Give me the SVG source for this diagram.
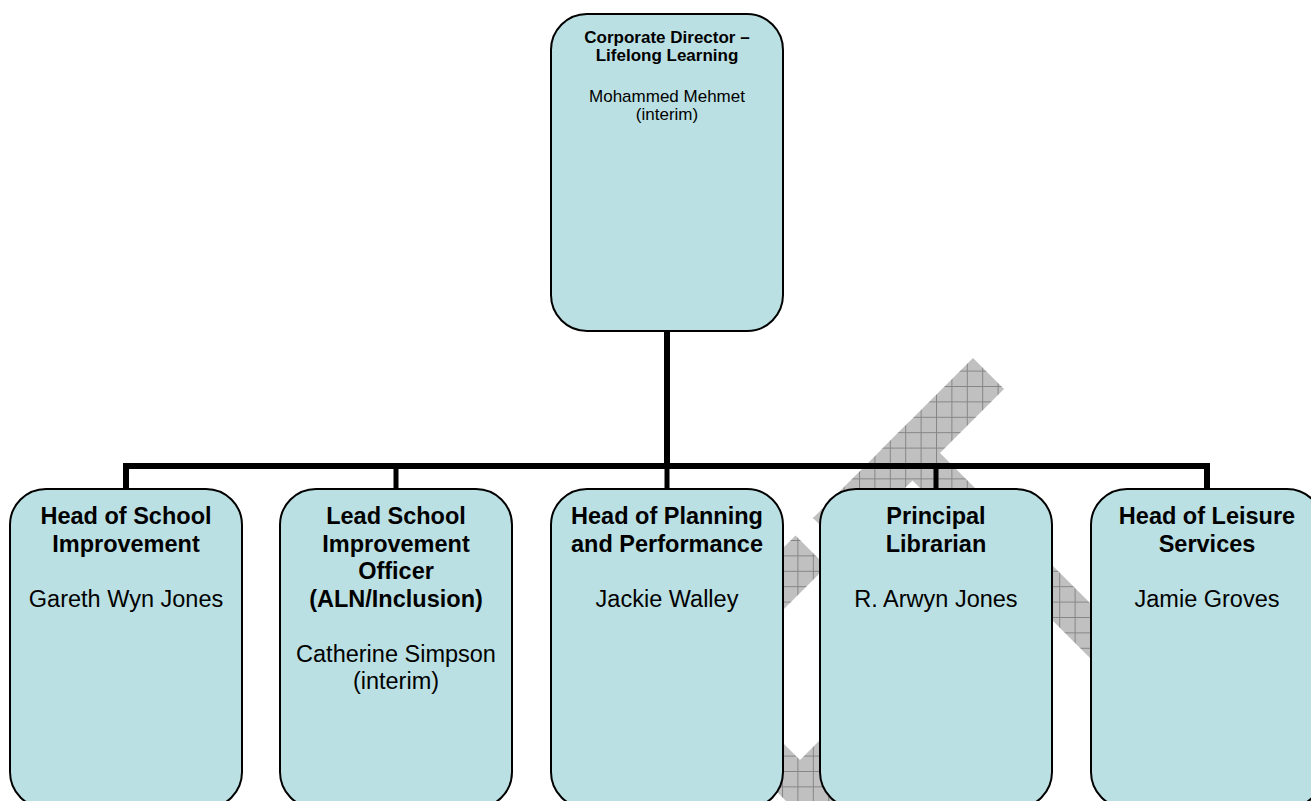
<svg xmlns="http://www.w3.org/2000/svg" width="1311" height="801" viewBox="0 0 1311 801">
<style>
.box{fill:#BBE0E3;stroke:#000;stroke-width:2}
.t{font-family:"Liberation Sans",Arial,sans-serif;font-size:23.5px;text-anchor:middle;fill:#000}
.b{font-weight:bold}
.s{font-family:"Liberation Sans",Arial,sans-serif;font-size:17px;text-anchor:middle;fill:#000}
.conn{fill:none;stroke:#000;stroke-width:6;stroke-linejoin:miter}
.stub{fill:none;stroke:#000;stroke-width:5}
.hatch{fill:url(#grid)}
</style>
<defs>
<pattern id="grid" patternUnits="userSpaceOnUse" x="936" y="386" width="15.4" height="15.4">
<rect width="15.4" height="15.4" fill="#C0C0C0"/>
<path d="M0.5,0 V15.4 M0,0.5 H15.4" stroke="#858585" stroke-width="1" fill="none"/>
</pattern>
</defs>
<g id="watermark">
<polygon class="hatch" points="973,358 1004,389 844,549 813,518"/>
<polygon class="hatch" points="909,422 881.5,449.5 1166,734 1193.5,706.5"/>
<polygon class="hatch" points="795.5,535.5 826.5,566.5 726.5,666.5 695.5,635.5"/>
<polygon class="hatch" points="740,700 800,760 860,700 900,740 900,830 815,830 740,755"/>
</g>
<g id="connectors">
<line class="conn" x1="667" y1="331" x2="667" y2="466"/>
<path class="conn" d="M126,489 V466 H1207 V489"/>
<line class="stub" x1="396" y1="466" x2="396" y2="489"/>
<line class="stub" x1="667" y1="466" x2="667" y2="489"/>
<line class="stub" x1="936" y1="466" x2="936" y2="489"/>
</g>
<g id="corporate-director">
<rect class="box" x="551" y="14" width="232" height="317" rx="36" ry="36"/>
<text class="s b" x="667" y="43">Corporate Director –</text>
<text class="s b" x="667" y="61">Lifelong Learning</text>
<text class="s" x="667" y="102">Mohammed Mehmet</text>
<text class="s" x="667" y="120">(interim)</text>
</g>
<g id="head-school-improvement">
<rect class="box" x="10" y="489" width="232" height="319" rx="36" ry="36"/>
<text class="t b" x="126" y="524">Head of School</text>
<text class="t b" x="126" y="552">Improvement</text>
<text class="t" x="126" y="607">Gareth Wyn Jones</text>
</g>
<g id="lead-school-improvement">
<rect class="box" x="280" y="489" width="232" height="319" rx="36" ry="36"/>
<text class="t b" x="396" y="524">Lead School</text>
<text class="t b" x="396" y="552">Improvement</text>
<text class="t b" x="396" y="579">Officer</text>
<text class="t b" x="396" y="607">(ALN/Inclusion)</text>
<text class="t" x="396" y="662">Catherine Simpson</text>
<text class="t" x="396" y="689">(interim)</text>
</g>
<g id="head-planning-performance">
<rect class="box" x="551" y="489" width="232" height="319" rx="36" ry="36"/>
<text class="t b" x="667" y="524">Head of Planning</text>
<text class="t b" x="667" y="552">and Performance</text>
<text class="t" x="667" y="607">Jackie Walley</text>
</g>
<g id="principal-librarian">
<rect class="box" x="820" y="489" width="232" height="319" rx="36" ry="36"/>
<text class="t b" x="936" y="524">Principal</text>
<text class="t b" x="936" y="552">Librarian</text>
<text class="t" x="936" y="607">R. Arwyn Jones</text>
</g>
<g id="head-leisure-services">
<rect class="box" x="1091" y="489" width="232" height="319" rx="36" ry="36"/>
<text class="t b" x="1207" y="524">Head of Leisure</text>
<text class="t b" x="1207" y="552">Services</text>
<text class="t" x="1207" y="607">Jamie Groves</text>
</g>
</svg>
